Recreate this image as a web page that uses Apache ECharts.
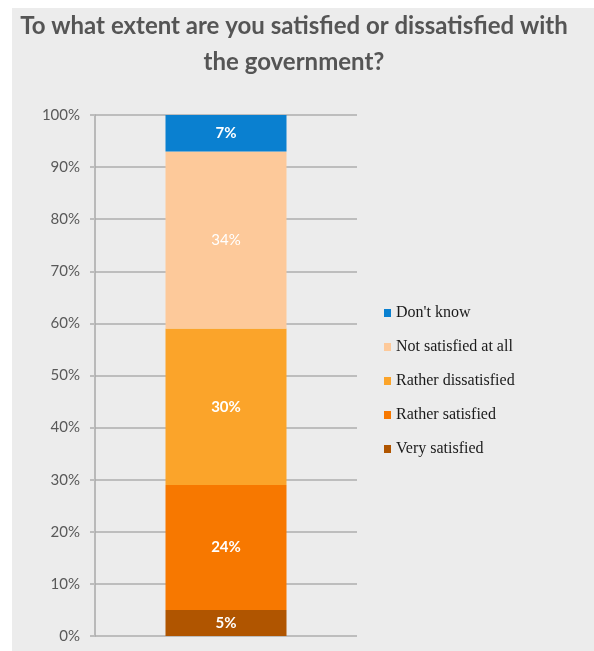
<!DOCTYPE html>
<html>
<head>
<meta charset="utf-8">
<script src="https://cdn.jsdelivr.net/npm/echarts@6/dist/echarts.min.js"></script>
<style>
html,body{margin:0;padding:0;background:#fff;}
#chart{position:absolute;left:12px;top:8px;width:582px;height:643px;}
</style>
</head>
<body>
<div id="chart"></div>
<script>
const titleText = "To what extent are you satisfied or dissatisfied with\nthe government?";
const categories = [""];
const seriesNames = ["Very satisfied", "Rather satisfied", "Rather dissatisfied", "Not satisfied at all", "Don't know"];
const verySatisfied = [5];
const ratherSatisfied = [24];
const ratherDissatisfied = [30];
const notSatisfiedAtAll = [34];
const dontKnow = [7];
const seriesValues = [verySatisfied, ratherSatisfied, ratherDissatisfied, notSatisfiedAtAll, dontKnow];
const seriesColors = ["#b05500", "#f77800", "#fba42a", "#fdc99a", "#0a80d0"];
const labelWeights = ["bold", "bold", "bold", "normal", "bold"];
const yTicks = [0, 10, 20, 30, 40, 50, 60, 70, 80, 90, 100];

const chart = echarts.init(document.getElementById('chart'));
const option = {
  backgroundColor: '#ececec',
  animation: false,
  title: {
    text: titleText,
    left: 282,
    top: 0,
    padding: 0,
    textAlign: 'center',
    textStyle: {
      fontFamily: 'Lato',
      fontWeight: 'bold',
      fontSize: 24,
      color: '#555555',
      lineHeight: 36
    }
  },
  legend: {
    orient: 'vertical',
    left: 367,
    top: 292,
    itemWidth: 7,
    itemHeight: 8,
    itemGap: 18,
    icon: 'rect',
    data: seriesNames.slice().reverse(),
    textStyle: {
      fontFamily: 'Liberation Serif',
      fontSize: 16,
      color: '#1a1a1a',
      padding: [0, 0, 0, 0]
    }
  },
  grid: {
    left: 83,
    right: 237,
    top: 107,
    bottom: 15,
    containLabel: false
  },
  xAxis: {
    type: 'category',
    data: categories,
    axisLine: { show: false },
    axisTick: { show: false },
    axisLabel: { show: false }
  },
  yAxis: {
    type: 'value',
    min: yTicks[0],
    max: yTicks[yTicks.length - 1],
    interval: 10,
    axisLine: { show: true, lineStyle: { color: '#a8a8a8', width: 1.5 } },
    axisTick: { show: true, length: 5, lineStyle: { color: '#bdbdbd', width: 2 } },
    splitLine: { show: true, lineStyle: { color: '#bdbdbd', width: 2 } },
    axisLabel: {
      margin: 15,
      fontFamily: 'Lato',
      fontSize: 15,
      color: '#595959',
      formatter: v => v + '%'
    }
  },
  series: seriesNames.map((name, i) => ({
    name: name,
    type: 'bar',
    stack: 'total',
    barWidth: 121,
    data: seriesValues[i],
    itemStyle: { color: seriesColors[i] },
    label: {
      show: true,
      position: 'inside',
      formatter: p => p.value + '%',
      fontFamily: 'Lato',
      fontWeight: labelWeights[i],
      fontSize: 15,
      color: '#ffffff'
    }
  }))
};
chart.setOption(option);
</script>
</body>
</html>
